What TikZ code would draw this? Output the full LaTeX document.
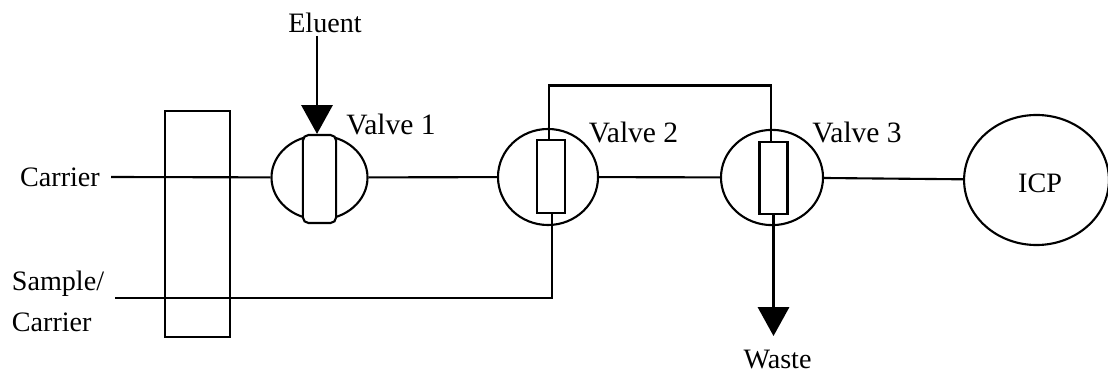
\documentclass[tikz,border=0pt]{standalone}
\usepackage{fontspec}
\setmainfont{Liberation Serif}
\usetikzlibrary{shapes.geometric, arrows.meta}

\begin{document}
\begin{tikzpicture}[
        x=0.025cm, y=-0.025cm,
        every node/.style={font=\fontsize{20}{29}\selectfont},
        pipe/.style={line width=1.5pt},
        arrow/.style={pipe, -{Triangle[length=0.72cm, width=0.78cm]}},
        valve/.style={draw, ellipse, line width=1.5pt, inner sep=0pt},
        slot/.style={draw, rectangle, fill=white, line width=1.5pt, minimum width=0.7cm, minimum height=1.82cm, inner sep=0pt},
        label/.style={inner sep=0pt},
        valvelabel/.style={label, font=\fontsize{21}{25}\selectfont}
    ]
\useasboundingbox (0, 0) rectangle (1108, 373);

\node[draw, rectangle, line width=1.5pt, minimum width=1.625cm, minimum height=5.65cm, inner sep=0pt] (column) at (197.5, 224) {};

\node[valve, minimum width=2.4cm, minimum height=2.1cm] (valve1) at (319.5, 177.5) {};
        \node[valve, minimum width=2.5cm, minimum height=2.4cm] (valve2) at (548, 177) {};
        \node[valve, minimum width=2.55cm, minimum height=2.38cm] (valve3) at (772, 177.5) {};
        \node[valve, minimum width=3.62cm, minimum height=3.25cm] (icp) at (1036.5, 180) {};

\node[slot, rounded corners=4pt, minimum width=0.83cm, minimum height=2.2cm] (slot1) at (319.5, 179) {};
        \node[slot] (slot2) at (551, 176.5) {};
        \node[slot] (slot3) at (773.5, 178) {};

\node[label] (carrier) at (60, 177) {Carrier};
        \node[label, align=left] (sample) at (58, 301) {Sample/\\Carrier};
        \node[label] (eluent) at (325, 23) {Eluent};
        \node[label] (waste) at (777.5, 360) {Waste};
        \node[label] (icplabel) at (1040, 183) {ICP};
        \node[valvelabel] (label1) at (391, 124) {Valve 1};
        \node[valvelabel] (label2) at (633.5, 132) {Valve 2};
        \node[valvelabel] (label3) at (857, 132) {Valve 3};

\coordinate (carrierin) at (111, 177);
        \coordinate (samplein) at (115, 298);
        \coordinate (loop) at (660, 85.5);
        \coordinate (eluentin) at (317, 36);
        \coordinate (wasteout) at (773.5, 336);

\draw[pipe] (carrierin) -- (valve1);
        \draw[pipe] (valve1) -- (valve2);
        \draw[pipe] (valve2) -- (valve3);
        \draw[pipe] (valve3) -- (icp);
        \draw[pipe] (samplein) -| ([xshift=0.03cm]slot2.south);
        \draw[pipe] ([xshift=-0.06cm]slot2.north) |- (loop) -| ([xshift=-0.06cm]slot3.north);
        \draw[arrow] (eluentin) -- (slot1.north -| eluentin);
        \draw[arrow] (slot3.south) -- (wasteout);

    \end{tikzpicture}
\end{document}
